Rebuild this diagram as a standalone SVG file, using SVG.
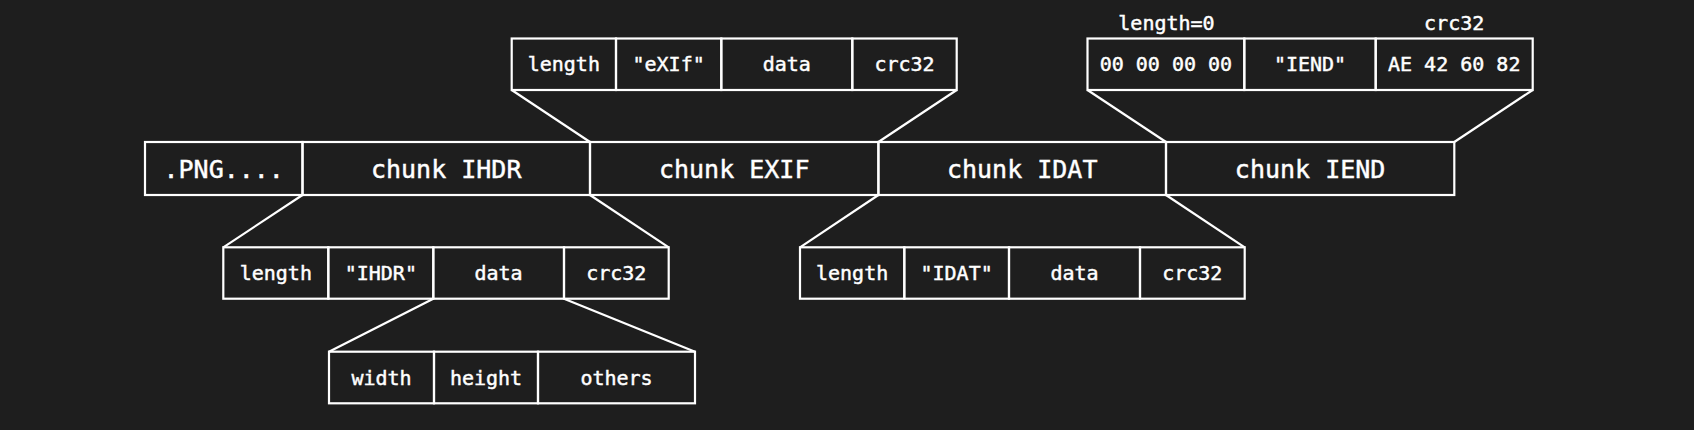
<svg xmlns="http://www.w3.org/2000/svg" width="1694" height="430" viewBox="0 0 1694 430">
<style>
.bg{fill:#1e1e1e}
.c{fill:none;stroke:#ffffff;stroke-width:2.2}
.ln{stroke:#ffffff;stroke-width:2.2;fill:none}
.t{fill:#ffffff;stroke:#ffffff;stroke-width:0.45;font-family:"DejaVu Sans Mono","Liberation Mono",monospace;text-anchor:middle}
.big{font-size:25px}
.sm{font-size:20px}
</style>
<rect class="bg" x="0" y="0" width="1694" height="430"/>
<g id="connectors">
<path class="ln" d="M511.7 90 L590 142 M956.7 90 L878.4 142"/>
<path class="ln" d="M1087.5 90 L1166 142 M1532.7 90 L1454.3 142"/>
<path class="ln" d="M302.5 195 L223.3 247.3 M590 195 L668.7 247.3"/>
<path class="ln" d="M878.4 195 L800 247.3 M1166 195 L1244.7 247.3"/>
<path class="ln" d="M433.3 298.7 L329 351.7 M564 298.7 L695 351.7"/>
</g>
<g id="png-file">
<rect class="c" x="145" y="142" width="157.5" height="53"/>
<rect class="c" x="302.5" y="142" width="287.5" height="53"/>
<rect class="c" x="590" y="142" width="288.4" height="53"/>
<rect class="c" x="878.4" y="142" width="287.6" height="53"/>
<rect class="c" x="1166" y="142" width="288.3" height="53"/>
<text class="t big" x="223.7" y="177.5">.PNG....</text>
<text class="t big" x="446.2" y="177.5">chunk IHDR</text>
<text class="t big" x="734.2" y="177.5">chunk EXIF</text>
<text class="t big" x="1022.2" y="177.5">chunk IDAT</text>
<text class="t big" x="1310.1" y="177.5">chunk IEND</text>
</g>
<g id="exif-chunk">
<rect class="c" x="511.7" y="38.5" width="104.3" height="51.5"/>
<rect class="c" x="616" y="38.5" width="105.3" height="51.5"/>
<rect class="c" x="721.3" y="38.5" width="131" height="51.5"/>
<rect class="c" x="852.3" y="38.5" width="104.4" height="51.5"/>
<text class="t sm" x="563.8" y="71">length</text>
<text class="t sm" x="668.6" y="71">"eXIf"</text>
<text class="t sm" x="786.8" y="71">data</text>
<text class="t sm" x="904.5" y="71">crc32</text>
</g>
<g id="iend-chunk">
<rect class="c" x="1087.5" y="38.5" width="156.8" height="51.5"/>
<rect class="c" x="1244.3" y="38.5" width="131.4" height="51.5"/>
<rect class="c" x="1375.7" y="38.5" width="157" height="51.5"/>
<text class="t sm" x="1165.9" y="71">00 00 00 00</text>
<text class="t sm" x="1310" y="71">"IEND"</text>
<text class="t sm" x="1454.2" y="71">AE 42 60 82</text>
<text class="t sm" x="1166.5" y="30">length=0</text>
<text class="t sm" x="1454.2" y="30">crc32</text>
</g>
<g id="ihdr-chunk">
<rect class="c" x="223.3" y="247.3" width="105" height="51.4"/>
<rect class="c" x="328.3" y="247.3" width="105" height="51.4"/>
<rect class="c" x="433.3" y="247.3" width="130.7" height="51.4"/>
<rect class="c" x="564" y="247.3" width="104.7" height="51.4"/>
<text class="t sm" x="275.8" y="280">length</text>
<text class="t sm" x="380.8" y="280">"IHDR"</text>
<text class="t sm" x="498.6" y="280">data</text>
<text class="t sm" x="616.3" y="280">crc32</text>
</g>
<g id="idat-chunk">
<rect class="c" x="800" y="247.3" width="104.3" height="51.4"/>
<rect class="c" x="904.3" y="247.3" width="104.7" height="51.4"/>
<rect class="c" x="1009" y="247.3" width="131" height="51.4"/>
<rect class="c" x="1140" y="247.3" width="104.7" height="51.4"/>
<text class="t sm" x="852.1" y="280">length</text>
<text class="t sm" x="956.6" y="280">"IDAT"</text>
<text class="t sm" x="1074.5" y="280">data</text>
<text class="t sm" x="1192.3" y="280">crc32</text>
</g>
<g id="ihdr-data">
<rect class="c" x="329" y="351.7" width="105" height="51.6"/>
<rect class="c" x="434" y="351.7" width="104" height="51.6"/>
<rect class="c" x="538" y="351.7" width="157" height="51.6"/>
<text class="t sm" x="381.5" y="384.5">width</text>
<text class="t sm" x="486" y="384.5">height</text>
<text class="t sm" x="616.5" y="384.5">others</text>
</g>
</svg>
